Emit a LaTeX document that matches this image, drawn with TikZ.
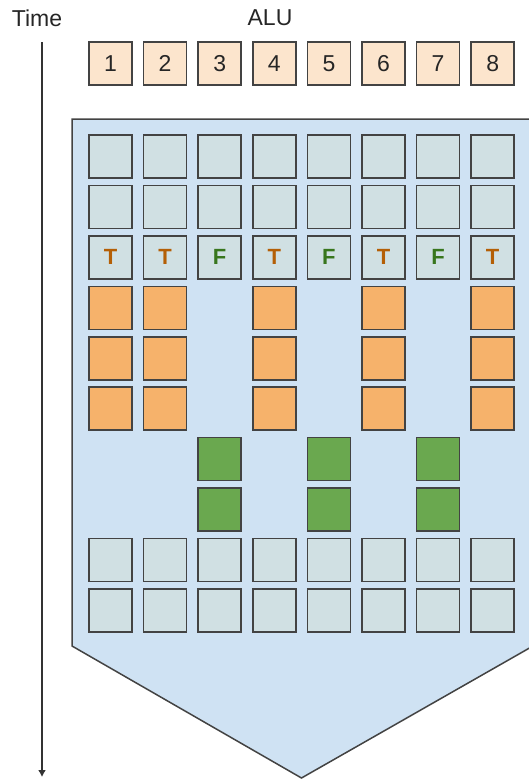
\documentclass[tikz,border=0pt]{standalone}
\usepackage{fontspec}
\setmainfont{Liberation Sans}
\usetikzlibrary{arrows.meta,positioning}

\definecolor{edgeGray}{HTML}{434343}
\definecolor{aluFill}{HTML}{FCE5CD}
\definecolor{blockFill}{HTML}{CFE2F3}
\definecolor{idleFill}{HTML}{D0E0E3}
\definecolor{takenFill}{HTML}{F6B26B}
\definecolor{skipFill}{HTML}{6AA84F}
\definecolor{takenText}{HTML}{B45F06}
\definecolor{skipText}{HTML}{38761D}

\begin{document}
\begin{tikzpicture}[
  x = 1pt, y = -1pt,
  every node/.style = {font=\fontsize{23}{27}\selectfont, text=black!85},
  cell/.style = {rectangle, draw=edgeGray, line width=1.6pt,
    minimum size=43pt, inner sep=0pt},
  alu/.style = {cell, fill=aluFill},
  idle/.style = {cell, fill=idleFill},
  taken/.style = {cell, fill=takenFill},
  skipped/.style = {cell, fill=skipFill},
  flagT/.style = {font=\fontsize{22}{25}\selectfont\bfseries, text=takenText},
  flagF/.style = {font=\fontsize{22}{25}\selectfont\bfseries, text=skipText},
  arr/.style = {-{Latex[length=7pt,width=8pt]}, line width=1.4pt, draw=black!80}
]
\clip (0,0) rectangle (529,779);

% warp block
\draw[fill=blockFill, draw=edgeGray, line width=1.5pt]
  (72,119) -- (533,119) -- (533,646) -- (301.5,778) -- (72,646) -- cycle;

\node (time) at (37,18) {Time};
\node (alulbl) at (270,18) {ALU};
\coordinate (t0) at (42,42);
\coordinate (t1) at (42,777);
\draw[arr] (t0) -- (t1);

% ALU lanes
\foreach \i in {1,...,8}
  \node[alu] (alu\i) at ({110.5+54.6*(\i-1)},63.5) {\i};

% common instructions
\foreach \r in {1,2,9,10}
  \foreach \i in {1,...,8}
    \node[idle] (c\r-\i) at ({110.5+54.6*(\i-1)},{156.5+50.44*(\r-1)}) {};

% branch condition
\foreach \i/\f in {1/T,2/T,3/F,4/T,5/F,6/T,7/F,8/T}
  \node[idle, flag\f] (c3-\i) at ({110.5+54.6*(\i-1)},{156.5+50.44*2}) {\f};

% taken path
\foreach \r in {4,5,6}
  \foreach \i in {1,2,4,6,8}
    \node[taken] (c\r-\i) at ({110.5+54.6*(\i-1)},{156.5+50.44*(\r-1)}) {};

% not-taken path
\foreach \r in {7,8}
  \foreach \i in {3,5,7}
    \node[skipped] (c\r-\i) at ({110.5+54.6*(\i-1)},{156.5+50.44*(\r-1)}) {};
\end{tikzpicture}
\end{document}
